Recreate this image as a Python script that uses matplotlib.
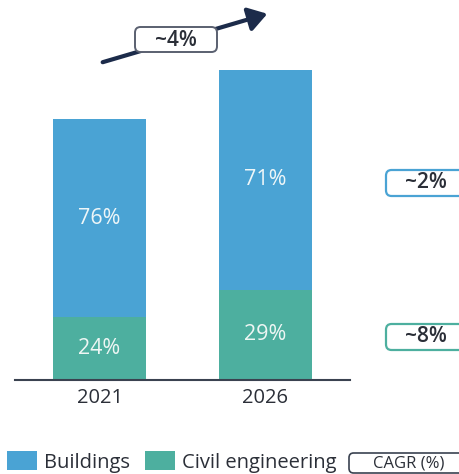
import matplotlib.pyplot as plt
from matplotlib.patches import FancyBboxPatch, FancyArrowPatch

plt.rcParams['font.family'] = ['Open Sans', 'DejaVu Sans']

years = ['2021', '2026']
totals = [100, 119]            # relative market size (2021 = 100)
civil_share = [24, 29]         # % of total
buildings_share = [76, 71]     # % of total
segment_cagr = ['~2%', '~8%']  # buildings, civil engineering
total_cagr = '~4%'

BLUE = '#4aa3d4'
GREEN = '#4daf9f'
NAVY = '#1c2b4a'
TEXT = '#2b2f38'

civil = [t * s / 100 for t, s in zip(totals, civil_share)]
buildings = [t * s / 100 for t, s in zip(totals, buildings_share)]

fig = plt.figure(figsize=(4.6, 4.74), dpi=100)
ax = fig.add_axes([15 / 460, 94 / 474, 335 / 460, 313 / 474])

x = range(len(years))
b_civil = ax.bar(x, civil, width=0.56, color=GREEN, label='Civil engineering')
b_build = ax.bar(x, buildings, width=0.56, bottom=civil, color=BLUE, label='Buildings')

for i in x:
    ax.text(i, civil[i] / 2, f'{civil_share[i]}%', ha='center', va='center',
            color='#eef6f4', fontsize=15.5)
    ax.text(i, civil[i] + buildings[i] / 2, f'{buildings_share[i]}%', ha='center',
            va='center', color='#eef6f8', fontsize=15.5)

ax.set_xlim(-0.51, 1.51)
ax.set_ylim(0, 120)
ax.set_xticks(list(x))
ax.set_xticklabels(years, fontsize=14.5, color=TEXT)
ax.tick_params(axis='x', length=0, pad=6)
ax.set_yticks([])
for side in ['top', 'right', 'left']:
    ax.spines[side].set_visible(False)
ax.spines['bottom'].set_color('#3a4250')
ax.spines['bottom'].set_linewidth(1.5)


def fx(px):
    return px / 460


def fy(py):
    return 1 - py / 474


# total CAGR arrow with label box on top
fig.patches.append(FancyArrowPatch(
    (fx(100), fy(63)), (fx(270), fy(13)), transform=fig.transFigure,
    arrowstyle='-|>,head_length=7,head_width=4.5', mutation_scale=1.6,
    color=NAVY, lw=3, zorder=1))
fig.patches.append(FancyBboxPatch((fx(135), fy(52)), fx(82), 25 / 474,
                                  boxstyle='round,pad=0,rounding_size=0.012',
                                  transform=fig.transFigure, fc='white',
                                  ec='#5a6070', lw=1.4, zorder=2))
fig.text(fx(176), fy(40), total_cagr, ha='center', va='center', fontsize=15,
         fontweight='semibold', color=TEXT, zorder=3)

# segment CAGR boxes on the right (cut off by the figure edge)
for py, label, col in [(183, segment_cagr[0], BLUE), (337, segment_cagr[1], GREEN)]:
    box = FancyBboxPatch((fx(386), fy(py + 13)), fx(100), 26 / 474,
                         boxstyle='round,pad=0,rounding_size=0.012',
                         transform=fig.transFigure, fc='white', ec=col, lw=1.6)
    fig.patches.append(box)
    fig.text(fx(426), fy(py), label, ha='center', va='center', fontsize=15,
             fontweight='semibold', color=TEXT)

# legend
fig.legend(handles=[b_build, b_civil], labels=['Buildings', 'Civil engineering'],
           loc='lower left', bbox_to_anchor=(-0.003, -0.014), ncol=2, frameon=False,
           fontsize=14.5, handlelength=1.5, handleheight=1.1, handletextpad=0.35,
           columnspacing=0.75, labelcolor=TEXT, borderaxespad=0.0)
cagr_box = FancyBboxPatch((fx(349), fy(473)), fx(120), 20 / 474,
                          boxstyle='round,pad=0,rounding_size=0.01',
                          transform=fig.transFigure, fc='white', ec='#3a4250', lw=1.2)
fig.patches.append(cagr_box)
fig.text(fx(409), fy(463), 'CAGR (%)', ha='center', va='center', fontsize=12,
         color=TEXT)

fig.savefig('out.png', dpi=100)
